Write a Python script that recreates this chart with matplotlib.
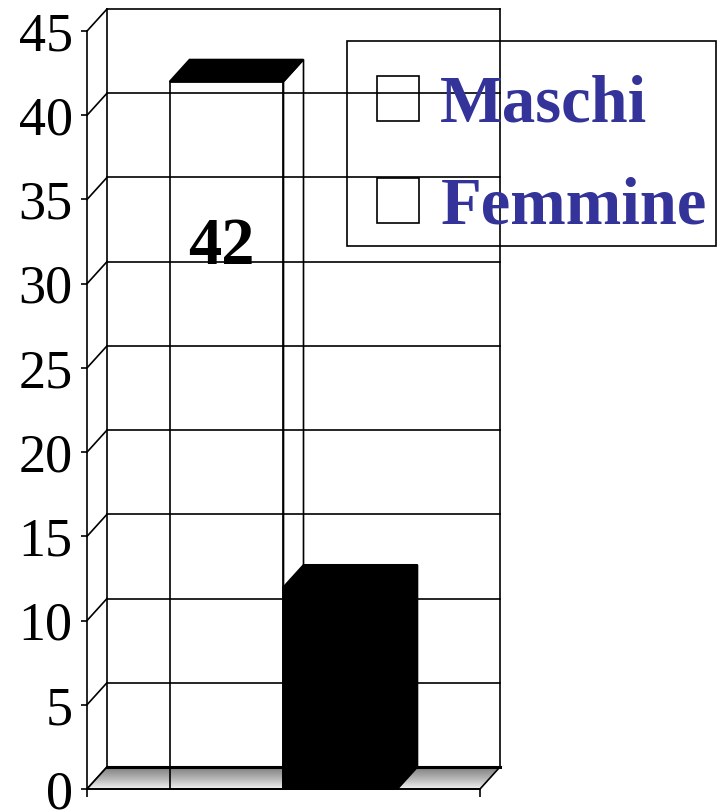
import numpy as np
import matplotlib
matplotlib.use("Agg")
import matplotlib.pyplot as plt
from matplotlib.patches import Polygon, Rectangle, Patch
from matplotlib.colors import LinearSegmentedColormap

# Dati
series = ["Maschi", "Femmine"]
values = [42, 12]
bar_faces = ["none", "black"]
bar_tops = ["black", "black"]
y_ticks = [0, 5, 10, 15, 20, 25, 30, 35, 40, 45]

# Geometria della finta prospettiva 3D (unita' dati)
Y_MAX = 45
DEPTH_X = 0.0509
DEPTH_Y = 1.31
BAR_W = 0.29
LW = 1.2
SERIF = "Liberation Serif"

fig = plt.figure(figsize=(7.18, 8.11), dpi=100)
W, H = 718, 811
ax = fig.add_axes([87 / W, (H - 789) / H, (500 - 87) / W, (789 - 9) / H])
ax.set_xlim(0, 1 + DEPTH_X)
ax.set_ylim(0, Y_MAX + DEPTH_Y)

# Parete di fondo e parete sinistra
for v in y_ticks:
    ax.plot([DEPTH_X, 1 + DEPTH_X], [v + DEPTH_Y] * 2, color="black", lw=LW,
            clip_on=False, zorder=1)
    ax.plot([0, DEPTH_X], [v, v + DEPTH_Y], color="black", lw=LW,
            clip_on=False, zorder=1)
for xe in (DEPTH_X, 1 + DEPTH_X):
    ax.plot([xe, xe], [DEPTH_Y, Y_MAX + DEPTH_Y], color="black", lw=LW,
            clip_on=False, zorder=1)

# Pavimento con sfumatura grigia
floor_pts = [(0, 0), (1, 0), (1 + DEPTH_X, DEPTH_Y), (DEPTH_X, DEPTH_Y)]
floor = Polygon(floor_pts, closed=True, facecolor="none", edgecolor="black",
                lw=LW, zorder=2, clip_on=False)
ax.add_patch(floor)
grad = np.linspace(0, 1, 64).reshape(-1, 1)
cmap = LinearSegmentedColormap.from_list("floor", ["#f2f2f2", "#b0b0b0", "#7a7a7a"])
im = ax.imshow(grad, cmap=cmap, extent=[0, 1 + DEPTH_X, 0, DEPTH_Y],
               origin="lower", aspect="auto", zorder=1.5)
im.set_clip_path(floor)
ax.plot([DEPTH_X, 1 + DEPTH_X], [DEPTH_Y, DEPTH_Y], color="black", lw=2.2,
        clip_on=False, zorder=2.1)

# Barre
for i, (val, face, top) in enumerate(zip(values, bar_faces, bar_tops)):
    x0 = 0.5 + (i - 1) * BAR_W
    x1 = x0 + BAR_W
    edge = "black"
    front = Rectangle((x0, 0), BAR_W, val, facecolor=face, edgecolor=edge,
                      lw=LW, zorder=3 + i, clip_on=False)
    side = Polygon([(x1, 0), (x1 + DEPTH_X, DEPTH_Y),
                    (x1 + DEPTH_X, val + DEPTH_Y), (x1, val)],
                   facecolor=face, edgecolor=edge, lw=LW, zorder=3 + i,
                   clip_on=False)
    cap = Polygon([(x0, val), (x1, val), (x1 + DEPTH_X, val + DEPTH_Y),
                   (x0 + DEPTH_X, val + DEPTH_Y)],
                  facecolor=top, edgecolor=edge, lw=LW, zorder=3 + i,
                  clip_on=False)
    for p in (side, front, cap):
        ax.add_patch(p)

# Etichetta del valore (solo Maschi visibile)
ax.text(0.5 - BAR_W / 2 - 0.013, values[0] - 9.85, str(values[0]),
        ha="center", va="center", fontsize=48, fontweight="bold",
        family=SERIF, color="black", zorder=6)

# Assi
for s in ("top", "right"):
    ax.spines[s].set_visible(False)
ax.spines["left"].set_bounds(0, Y_MAX)
ax.spines["bottom"].set_bounds(0, 1)
for s in ("left", "bottom"):
    ax.spines[s].set_linewidth(LW)
    ax.spines[s].set_zorder(2.2)
ax.set_yticks(y_ticks)
ax.set_yticklabels([str(t) for t in y_ticks], family=SERIF, fontsize=39)
ax.set_xticks([0, 1])
ax.set_xticklabels([])
ax.tick_params(axis="y", direction="out", length=4.3, width=LW, pad=6)
ax.tick_params(axis="x", direction="out", length=5.5, width=LW)
ax.patch.set_visible(False)

# Legenda (cornice disegnata a parte, trasparente)
legend_box = Rectangle((347 / W, 1 - 246 / H), 369 / W, 205 / H,
                       transform=fig.transFigure, facecolor="none",
                       edgecolor="black", lw=LW, zorder=7)
fig.patches.append(legend_box)
handles = [Patch(facecolor="none", edgecolor="black", lw=LW) for _ in series]
leg = ax.legend(handles, series, loc="upper left",
                bbox_to_anchor=(343 / W, 1 - 41 / H),
                bbox_transform=fig.transFigure, borderaxespad=0,
                prop={"family": SERIF, "weight": "bold", "size": 48},
                frameon=False, handlelength=0.63, handleheight=0.66,
                handletextpad=0.32, borderpad=0.51, labelspacing=0.61)
for t in leg.get_texts():
    t.set_color("#333399")
leg.set_zorder(7)

fig.savefig("out.png", dpi=100)
